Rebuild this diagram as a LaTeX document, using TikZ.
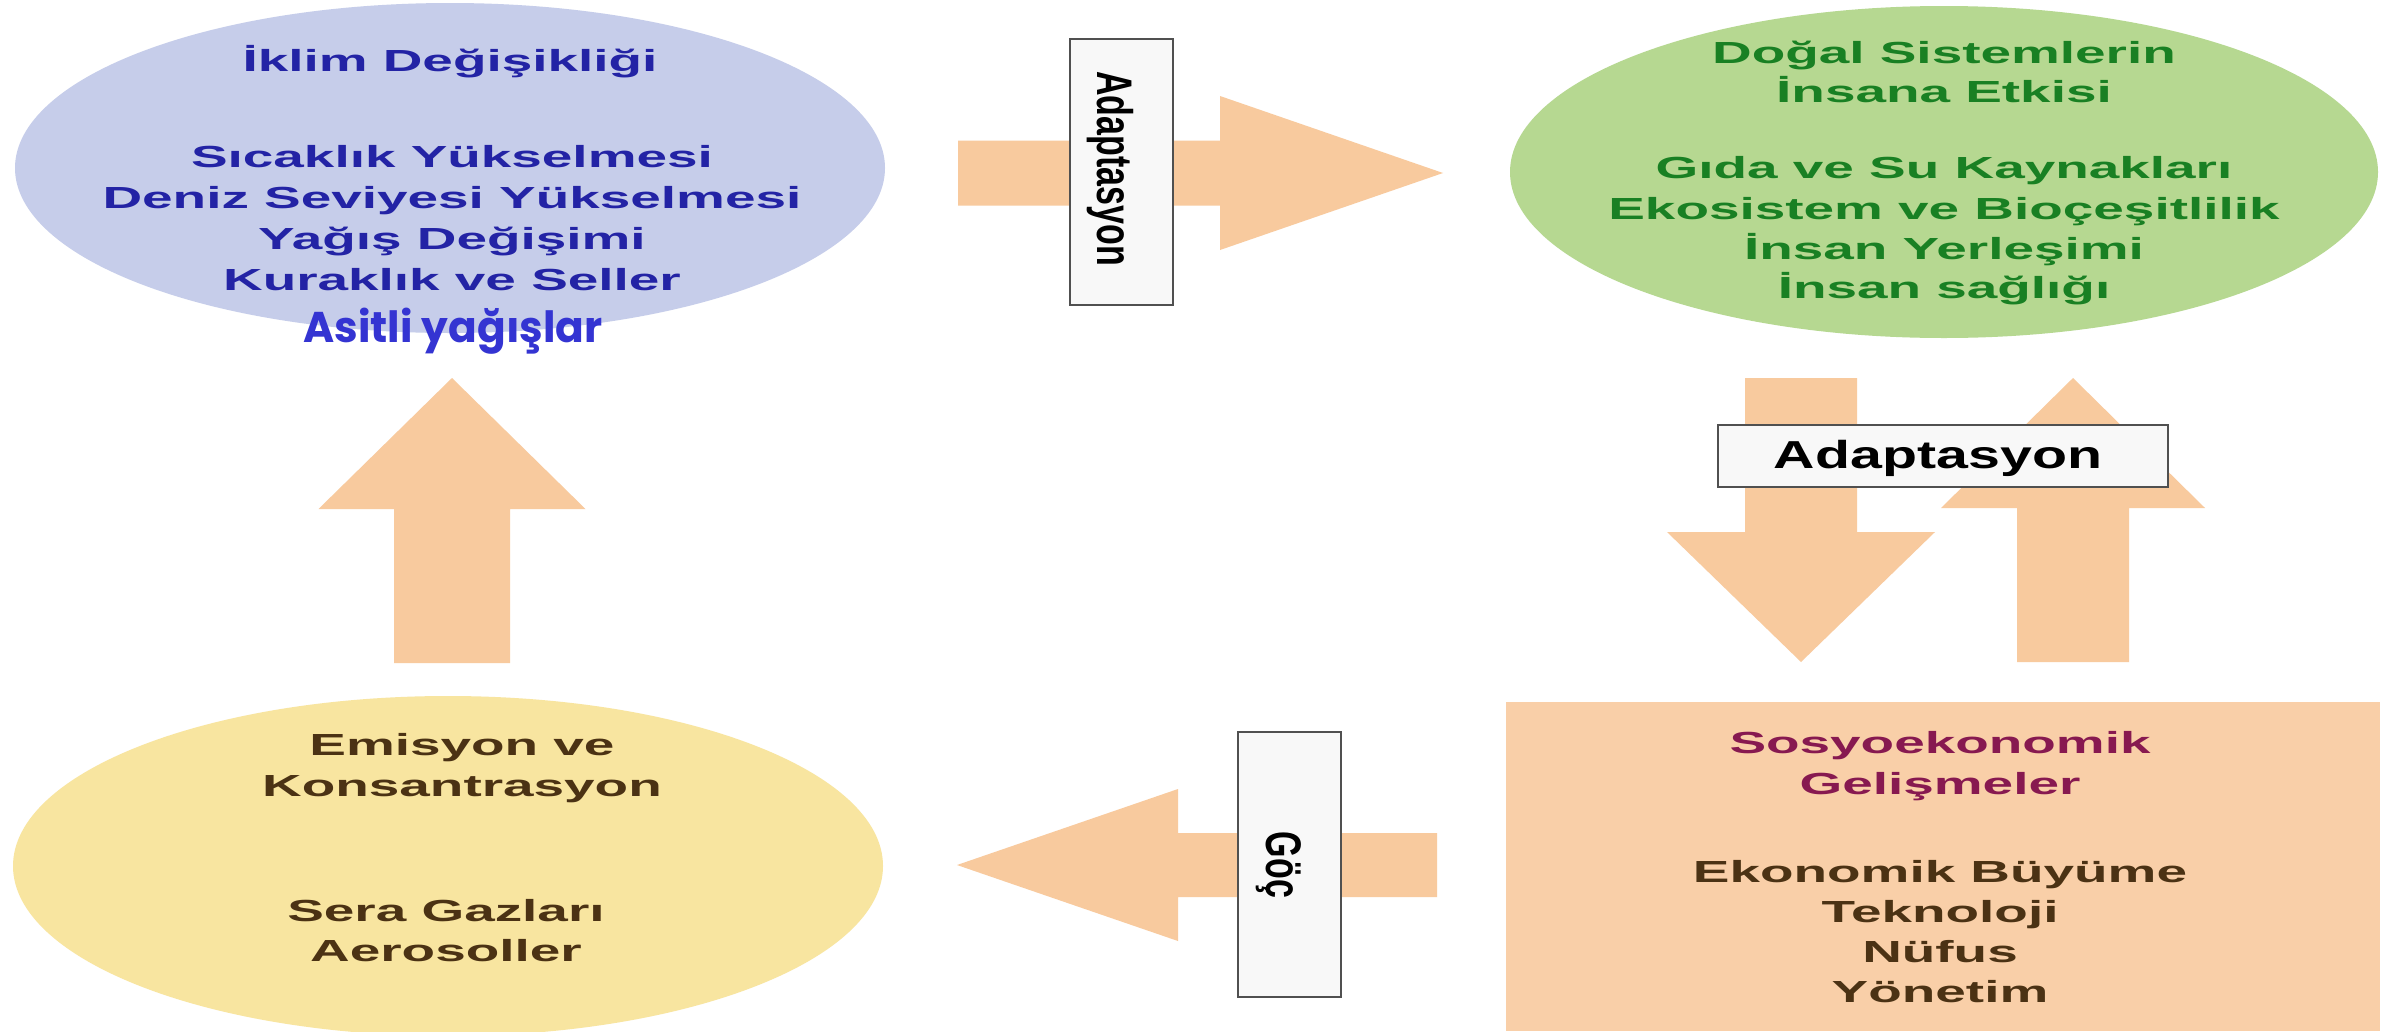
\documentclass[tikz,border=0pt]{standalone}
\usepackage{graphicx}
\usepackage{fontspec}
\setmainfont{Liberation Sans}
\newfontfamily\wideF[FakeStretch=1.8]{Liberation Sans}
\newfontfamily\vlabF[FakeStretch=0.68]{Liberation Sans}
\newfontfamily\hlabF[FakeStretch=1.47]{Liberation Sans}
\newfontfamily\asitF{Poppins}
\usetikzlibrary{shapes.geometric}
\definecolor{blueF}{RGB}{198,205,234}
\definecolor{blueT}{RGB}{35,35,165}
\definecolor{blueA}{RGB}{52,52,210}
\definecolor{greenF}{RGB}{182,216,145}
\definecolor{greenT}{RGB}{25,128,35}
\definecolor{yelF}{RGB}{248,229,160}
\definecolor{brownT}{RGB}{75,50,20}
\definecolor{salF}{RGB}{249,207,168}
\definecolor{maroonT}{RGB}{135,25,80}
\definecolor{arrC}{RGB}{248,202,158}
\definecolor{boxF}{RGB}{248,248,248}
\definecolor{boxD}{RGB}{80,80,80}
\tikzset{
  ell/.style={ellipse, inner sep=0, draw=none},
  txt/.style={anchor=base, inner sep=0, font=\wideF\bfseries\fontsize{30.5}{36}\selectfont},
  lbox/.style={draw=boxD, line width=2.5pt, fill=boxF, inner sep=0},
  vlab/.style={anchor=base, inner sep=0, rotate=-90, font=\vlabF\bfseries\fontsize{50}{60}\selectfont},
  hlab/.style={anchor=base, inner sep=0, font=\hlabF\bfseries\fontsize{39}{46}\selectfont},
  arr/.style={fill=arrC, draw=none},
  pics/blockarrow/.style n args={4}{code={%
    \fill[arr] (-#1,-#2) -- (-#4,-#2) -- (-#4,-#3) -- (0,0) -- (-#4,#3) -- (-#4,#2) -- (-#1,#2) -- cycle;}}
}
\begin{document}
\begin{tikzpicture}[x=1pt,y=-1pt]
\useasboundingbox (0,0) rectangle (2392,1031);
\fill[white] (0,0) rectangle (2392,1031);

% main shapes
\node[ell, fill=blueF, minimum width=870, minimum height=330] (clim) at (450,168) {};
\node[ell, fill=greenF, minimum width=868, minimum height=332] (nat) at (1944,172) {};
\node[ell, fill=yelF, minimum width=870, minimum height=340] (emis) at (448,866) {};
\node[rectangle, fill=salF, inner sep=0, minimum width=874, minimum height=329, anchor=north west] (soc) at (1506,702) {};

% block arrows (tips at named coordinates)
\coordinate (tipA) at (1443,173);
\coordinate (tipB) at (957,865);
\coordinate (tipC) at (452,378);
\coordinate (tipD) at (1801,662);
\coordinate (tipE) at (2073,378);
\pic at (tipA) {blockarrow={485}{32.5}{77}{223}};
\pic[rotate=180] at (tipB) {blockarrow={480}{32}{76}{221}};
\pic[rotate=90] at (tipC) {blockarrow={285}{58}{133.5}{131}};
\pic[rotate=-90] at (tipD) {blockarrow={284}{56}{134}{130}};
\pic[rotate=90] at (tipE) {blockarrow={284}{56}{132}{130}};

% label boxes
\node[lbox, minimum width=103, minimum height=266] (lab1) at (1121.5,172) {};
\node[vlab] (lab1t) at (1097,168.5) {Adaptasyon};
\node[lbox, minimum width=103, minimum height=265] (lab2) at (1289.5,864.5) {};
\node[vlab] (lab2t) at (1266,865) {Göç};
\node[lbox, minimum width=450, minimum height=62] (lab3) at (1943,456) {};
\node[hlab] (lab3t) at (1938,468) {Adaptasyon};

% climate change texts
\node[txt, text=blueT] (b1) at (450,71) {İklim Değişikliği};
\node[txt, text=blueT] (b2) at (452,167) {Sıcaklık Yükselmesi};
\node[txt, text=blueT] (b3) at (452,208) {Deniz Seviyesi Yükselmesi};
\node[txt, text=blueT] (b4) at (452,249) {Yağış Değişimi};
\node[txt, text=blueT] (b5) at (452,290) {Kuraklık ve Seller};
\node[anchor=base, inner sep=0, text=blueA, font=\asitF\bfseries\fontsize{43}{50}\selectfont] (b6) at (453,342) {\resizebox{299pt}{\height}{Asitli yağışlar}};

% natural systems texts
\node[txt, text=greenT] (g1) at (1944,63) {Doğal Sistemlerin};
\node[txt, text=greenT] (g2) at (1944,102) {İnsana Etkisi};
\node[txt, text=greenT] (g3) at (1944,178) {Gıda ve Su Kaynakları};
\node[txt, text=greenT] (g4) at (1944,219) {Ekosistem ve Bioçeşitlilik};
\node[txt, text=greenT] (g5) at (1944,259) {İnsan Yerleşimi};
\node[txt, text=greenT] (g6) at (1944,298) {İnsan sağlığı};

% emissions texts
\node[txt, text=brownT] (y1) at (462,755) {Emisyon ve};
\node[txt, text=brownT] (y2) at (462,796) {Konsantrasyon};
\node[txt, text=brownT] (y3) at (446,921) {Sera Gazları};
\node[txt, text=brownT] (y4) at (446,961) {Aerosoller};

% socio-economic texts
\node[txt, text=maroonT] (s1) at (1940,753) {Sosyoekonomik};
\node[txt, text=maroonT] (s2) at (1940,794) {Gelişmeler};
\node[txt, text=brownT] (s3) at (1940,882) {Ekonomik Büyüme};
\node[txt, text=brownT] (s4) at (1940,922) {Teknoloji};
\node[txt, text=brownT] (s5) at (1940,962) {Nüfus};
\node[txt, text=brownT] (s6) at (1940,1002) {Yönetim};
\end{tikzpicture}
\end{document}
